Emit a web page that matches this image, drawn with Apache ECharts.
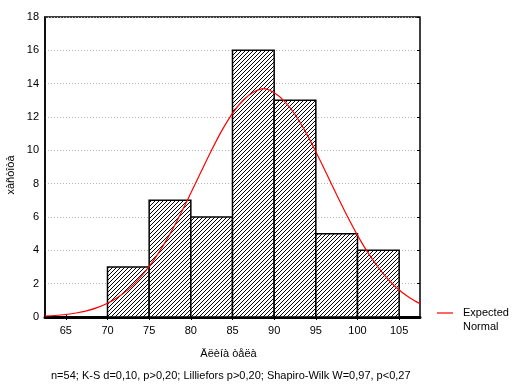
<!DOCTYPE html>
<html>
<head>
<meta charset="utf-8">
<script src="https://cdn.jsdelivr.net/npm/echarts@6/dist/echarts.min.js"></script>
<style>html,body{margin:0;padding:0;background:#fff}#c{width:517px;height:389px}</style>
</head>
<body>
<div id="c"></div>
<script>
// Histogram bins (lower edge, upper edge) and counts
const binLow = [70, 75, 80, 85, 90, 95, 100];
const binHigh = [75, 80, 85, 90, 95, 100, 105];
const counts = [3, 7, 6, 16, 13, 5, 4];
// Expected normal curve
const curveX = [62.5, 63.75, 65, 66.25, 67.5, 68.75, 70, 71.25, 72.5, 73.75, 75, 76.25, 77.5, 78.75, 80, 81.25, 82.5, 83.75, 85, 86.25, 87.5, 88.75, 90, 91.25, 92.5, 93.75, 95, 96.25, 97.5, 98.75, 100, 101.25, 102.5, 103.75, 105, 106.25, 107.5];
const curveY = [0.06, 0.09, 0.15, 0.24, 0.37, 0.56, 0.83, 1.19, 1.66, 2.27, 3.03, 3.94, 4.99, 6.17, 7.44, 8.74, 10.02, 11.21, 12.22, 12.99, 13.48, 13.70, 13.45, 12.94, 12.15, 11.12, 9.92, 8.64, 7.33, 6.07, 4.90, 3.86, 2.97, 2.22, 1.62, 1.16, 0.80];
const xTicks = [65, 70, 75, 80, 85, 90, 95, 100, 105];
const xTitle = 'Äëèíà òåëà';
const yTitle = 'xàñòîòà';
const legendLines = ['Expected', 'Normal'];
const footnote = 'n=54; K-S d=0,10, p>0,20; Lilliefors p>0,20; Shapiro-Wilk W=0,97, p<0,27';

const FONT = 'Liberation Sans, Arial, sans-serif';
const FS = 11;

// hatch pattern
const pc = document.createElement('canvas');
pc.width = 4; pc.height = 4;
const g = pc.getContext('2d');
g.fillStyle = '#fff'; g.fillRect(0, 0, 4, 4);
g.strokeStyle = '#000'; g.lineWidth = 1;
g.beginPath();
g.moveTo(-1, 5); g.lineTo(5, -1);
g.moveTo(-1, 1); g.lineTo(1, -1);
g.moveTo(3, 5); g.lineTo(5, 3);
g.stroke();
const hatch = { image: pc, repeat: 'repeat' };

const barData = binLow.map((v, i) => [v, binHigh[i], counts[i]]);
const curveData = curveX.map((v, i) => [v, curveY[i]]);

const chart = echarts.init(document.getElementById('c'), null, { renderer: 'canvas' });
chart.setOption({
  animation: false,
  backgroundColor: '#fff',
  textStyle: { fontFamily: FONT },
  grid: { left: 45, right: 97, top: 17, bottom: 72, show: true, borderColor: '#000', borderWidth: 1.5, backgroundColor: 'transparent' },
  xAxis: [{
    type: 'value', min: 62.5, max: 107.5,
    name: xTitle, nameLocation: 'middle', nameGap: 31,
    nameTextStyle: { color: '#000', fontSize: FS, fontFamily: FONT, padding: [0, 8, 0, 0] },
    axisLine: { show: true, onZero: false, lineStyle: { color: '#000', width: 3 } },
    axisTick: { show: true, inside: true, length: 3, customValues: xTicks, lineStyle: { color: '#000' } },
    axisLabel: { customValues: xTicks, color: '#000', fontSize: FS, margin: 8, fontFamily: FONT },
    splitLine: { show: false }
  }, {
    type: 'value', min: 62.5, max: 107.5, position: 'top',
    axisLine: { show: false },
    axisTick: { show: true, inside: true, length: 3, customValues: xTicks, lineStyle: { color: '#000' } },
    axisLabel: { show: false },
    splitLine: { show: false }
  }],
  yAxis: [{
    type: 'value', min: 0, max: 18, interval: 2,
    axisLine: { show: true, lineStyle: { color: '#000', width: 1.5 } },
    axisTick: { show: false },
    axisLabel: { color: '#000', fontSize: FS, margin: 6, fontFamily: FONT },
    splitLine: { show: true, lineStyle: { color: '#b4b4b4', type: [1, 2], width: 1 } }
  }, {
    type: 'value', min: 0, max: 18, interval: 2, position: 'right',
    axisLine: { show: false },
    axisTick: { show: true, inside: true, length: 3, lineStyle: { color: '#000' } },
    axisLabel: { show: false },
    splitLine: { show: false }
  }],
  series: [{
    type: 'custom',
    xAxisIndex: 0, yAxisIndex: 0,
    encode: { x: [0, 1], y: 2 },
    data: barData,
    z: 2,
    renderItem: function (params, api) {
      const p0 = api.coord([api.value(0), api.value(2)]);
      const p1 = api.coord([api.value(1), 0]);
      return {
        type: 'rect',
        shape: { x: p0[0], y: p0[1], width: p1[0] - p0[0], height: p1[1] - p0[1] },
        style: { fill: hatch, stroke: '#000', lineWidth: 1.5 }
      };
    }
  }, {
    type: 'line',
    name: 'Expected Normal',
    xAxisIndex: 0, yAxisIndex: 0,
    data: curveData,
    smooth: 0.3,
    showSymbol: false,
    z: 5,
    lineStyle: { color: '#ff0000', width: 1.2 }
  }],
  graphic: [
    { type: 'text', x: 11, y: 175, rotation: Math.PI / 2, style: { text: yTitle, fill: '#000', font: FS + 'px ' + FONT, textAlign: 'center', textVerticalAlign: 'middle' } },
    { type: 'line', shape: { x1: 437, y1: 313, x2: 453, y2: 313 }, style: { stroke: '#ff0000', lineWidth: 1.2 } },
    { type: 'text', left: 463, top: 307, style: { text: legendLines[0], fill: '#000', font: FS + 'px ' + FONT } },
    { type: 'text', left: 463, top: 321, style: { text: legendLines[1], fill: '#000', font: FS + 'px ' + FONT } },
    { type: 'text', left: 51, top: 370, style: { text: footnote, fill: '#000', font: FS + 'px ' + FONT } }
  ]
});
</script>
</body>
</html>
